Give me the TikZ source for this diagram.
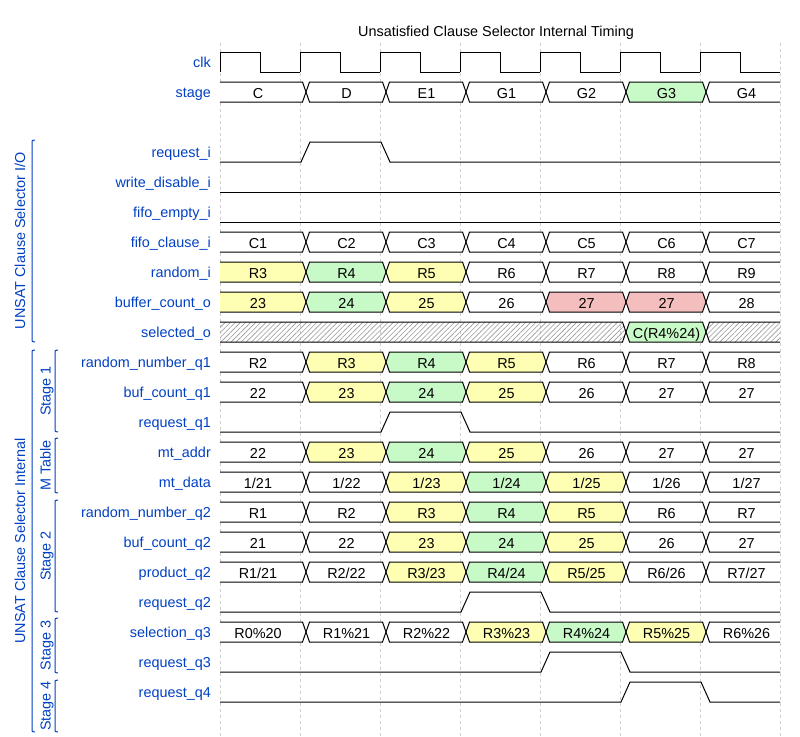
\documentclass[tikz,border=0pt]{standalone}
\usepackage{fontspec}
\setmainfont{Liberation Sans}
\usetikzlibrary{patterns.meta}
\definecolor{sigblue}{RGB}{0,65,196}
\definecolor{cyel}{RGB}{255,255,180}
\definecolor{cgrn}{RGB}{200,250,200}
\definecolor{cred}{RGB}{244,190,190}
\definecolor{cgrid}{RGB}{205,205,205}

\newcommand\buscell[6]{%
  \pgfmathsetmacro\bxa{220+80*(#3)}
  \pgfmathsetmacro\bxb{220+80*(#4)}
  \pgfmathsetmacro\byt{#2}
  \pgfmathsetmacro\bym{#2+10}
  \pgfmathsetmacro\byb{#2+20}
  \pgfmathtruncatemacro\bca{#3}
  \pgfmathtruncatemacro\bcb{#4}
  \ifnum\bca=0 \def\bxl{220}\def\blt{}\def\bxt{258}%
  \else \pgfmathsetmacro\bxl{\bxa+9.5}\def\blt{(\bxa+6,\bym) --}\pgfmathsetmacro\bxt{(\bxa+\bxb)/2+6.5}\fi
  \ifnum\bcb=7 \def\bxr{780}\def\brt{}%
  \else \pgfmathsetmacro\bxr{\bxb+2.5}\def\brt{-- (\bxb+6,\bym)}\fi
  \fill[#5] \blt (\bxl,\byt) -- (\bxr,\byt) \brt -- (\bxr,\byb) -- (\bxl,\byb) -- cycle;
  \draw[wire] \blt (\bxl,\byt) -- (\bxr,\byt) \brt;
  \draw[wire] \blt (\bxl,\byb) -- (\bxr,\byb) \brt;
  \node[val] (#1) at (\bxt,\byt+16) {#6};
}
\newcommand\busrow[3]{%
  \foreach \v/\c [count=\i from 0] in {#3}{\buscell{#1\i}{#2}{\i}{\i+1}{\c}{\v}}}
\newcommand\pulse[3]{%
  \draw[wire] (220,#1+20) -- ({221+80*#2},#1+20) -- ({230+80*#2},#1) -- ({221+80*#3},#1) -- ({230+80*#3},#1+20) -- (780,#1+20);}
\newcommand\grp[6]{%
  \draw[brace] (#2+3,#3) .. controls (#2,#3) .. (#2,#3+4) -- (#2,#4-4) .. controls (#2,#4) .. (#2+3,#4);
  \node[grptxt] (#1) at (#5,{(#3+#4)/2}) {#6};}

\begin{document}
\begin{tikzpicture}[x=1pt,y=-1pt,
    wire/.style={line width=1pt,black},
    grid/.style={cgrid,line width=0.8pt,dash pattern=on 3pt off 3pt},
    val/.style={anchor=base,inner sep=0pt,font=\fontsize{14.4}{17}\selectfont},
    lbl/.style={anchor=base east,inner sep=0pt,text=sigblue,font=\fontsize{14.4}{17}\selectfont},
    grptxt/.style={rotate=90,anchor=base,inner sep=0pt,text=sigblue,font=\fontsize{14.4}{17}\selectfont},
    brace/.style={sigblue,line width=1pt},
    wh/.style={fill=white},
    yel/.style={fill=cyel},
    grn/.style={fill=cgrn},
    red/.style={fill=cred},
    hatch/.style={pattern={Lines[angle=45,distance=3.6pt,line width=0.6pt]},pattern color=gray!80}]
\useasboundingbox[fill=white] (0,0) rectangle (800,736);
\foreach \x in {220,300,...,780} \draw[grid] (\x,43) -- (\x,736);

\node[val] (title) at (496,36) {Unsatisfied Clause Selector Internal Timing};

\foreach \s/\k in {clk/0,stage/1,request\_i/3,write\_disable\_i/4,fifo\_empty\_i/5,
    fifo\_clause\_i/6,random\_i/7,buffer\_count\_o/8,selected\_o/9,random\_number\_q1/10,
    buf\_count\_q1/11,request\_q1/12,mt\_addr/13,mt\_data/14,random\_number\_q2/15,
    buf\_count\_q2/16,product\_q2/17,request\_q2/18,selection\_q3/19,request\_q3/20,request\_q4/21}
  \node[lbl] (lbl\k) at (211,{67+30*\k}) {\s};

\foreach \i in {0,...,6}
  \draw[wire] ({220+80*\i},72) -- ({220+80*\i},52) -- ({260+80*\i},52) -- ({260+80*\i},72) -- ({300+80*\i},72);
\busrow{stage}{82}{C/wh,D/wh,E1/wh,G1/wh,G2/wh,G3/grn,G4/wh}
\pulse{142}{1}{2}
\draw[wire] (220,192) -- (780,192);
\draw[wire] (220,222) -- (780,222);
\busrow{fifo}{232}{C1/wh,C2/wh,C3/wh,C4/wh,C5/wh,C6/wh,C7/wh}
\busrow{rnd}{262}{R3/yel,R4/grn,R5/yel,R6/wh,R7/wh,R8/wh,R9/wh}
\busrow{bcnt}{292}{23/yel,24/grn,25/yel,26/wh,27/red,27/red,28/wh}
\buscell{sel0}{322}{0}{5}{hatch}{}
\buscell{sel1}{322}{5}{6}{grn}{C(R4\%24)}
\buscell{sel2}{322}{6}{7}{hatch}{}
\busrow{rnda}{352}{R2/wh,R3/yel,R4/grn,R5/yel,R6/wh,R7/wh,R8/wh}
\busrow{bufa}{382}{22/wh,23/yel,24/grn,25/yel,26/wh,27/wh,27/wh}
\pulse{412}{2}{3}
\busrow{mtaddr}{442}{22/wh,23/yel,24/grn,25/yel,26/wh,27/wh,27/wh}
\busrow{mtdata}{472}{{1/21}/wh,{1/22}/wh,{1/23}/yel,{1/24}/grn,{1/25}/yel,{1/26}/wh,{1/27}/wh}
\busrow{rndb}{502}{R1/wh,R2/wh,R3/yel,R4/grn,R5/yel,R6/wh,R7/wh}
\busrow{bufb}{532}{21/wh,22/wh,23/yel,24/grn,25/yel,26/wh,27/wh}
\busrow{prod}{562}{{R1/21}/wh,{R2/22}/wh,{R3/23}/yel,{R4/24}/grn,{R5/25}/yel,{R6/26}/wh,{R7/27}/wh}
\pulse{592}{3}{4}
\busrow{selq}{622}{R0\%20/wh,R1\%21/wh,R2\%22/wh,R3\%23/yel,R4\%24/grn,R5\%25/yel,R6\%26/wh}
\pulse{652}{4}{5}
\pulse{682}{5}{6}

\grp{io}{32}{140}{342}{25}{UNSAT Clause Selector I/O}
\grp{int}{32}{350}{732}{25}{UNSAT Clause Selector Internal}
\grp{st1}{55}{350}{432}{50.5}{Stage 1}
\grp{mt}{55}{438}{493}{50.5}{M Table}
\grp{st2}{55}{500}{612}{50.5}{Stage 2}
\grp{st3}{55}{618}{673}{50.5}{Stage 3}
\grp{st4}{55}{680}{732}{50.5}{Stage 4}
\end{tikzpicture}
\end{document}
